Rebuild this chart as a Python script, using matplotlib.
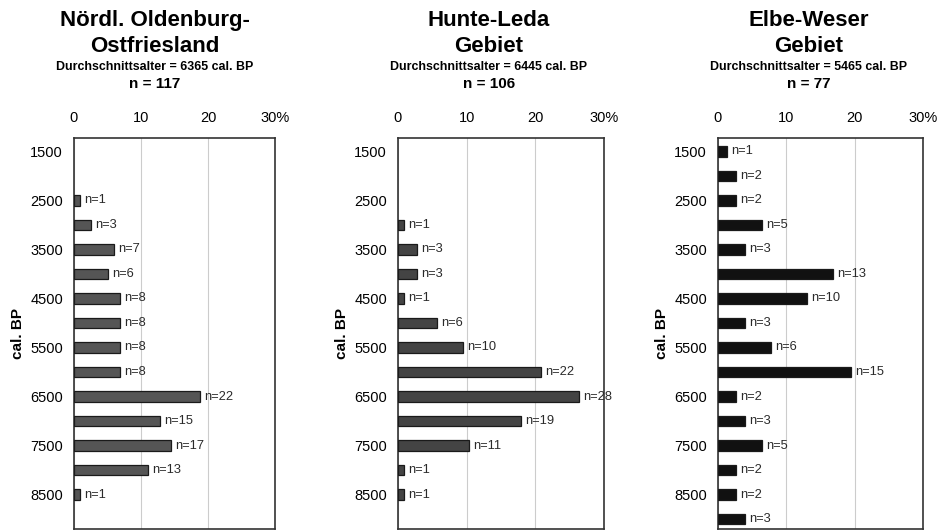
import numpy as np
import matplotlib.pyplot as plt

plt.rcParams['font.family'] = ['Liberation Sans', 'DejaVu Sans']

# Bin centres (cal. BP) and counts per region
bins_oldenburg = [2500, 3000, 3500, 4000, 4500, 5000, 5500, 6000, 6500, 7000, 7500, 8000, 8500]
n_oldenburg = [1, 3, 7, 6, 8, 8, 8, 8, 22, 15, 17, 13, 1]

bins_hunte = [3000, 3500, 4000, 4500, 5000, 5500, 6000, 6500, 7000, 7500, 8000, 8500]
n_hunte = [1, 3, 3, 1, 6, 10, 22, 28, 19, 11, 1, 1]

bins_elbe = [1500, 2000, 2500, 3000, 3500, 4000, 4500, 5000, 5500, 6000, 6500, 7000, 7500, 8000, 8500, 9000]
n_elbe = [1, 2, 2, 5, 3, 13, 10, 3, 6, 15, 2, 3, 5, 2, 2, 3]

titles = ["Nördl. Oldenburg-\nOstfriesland", "Hunte-Leda\nGebiet", "Elbe-Weser\nGebiet"]
mean_ages = [6365, 6445, 5465]
ytick_vals = [1500, 2500, 3500, 4500, 5500, 6500, 7500, 8500]
xtick_vals = [0, 10, 20, 30]
xtick_labels = ["0", "10", "20", "30%"]

panels = [
    (bins_oldenburg, n_oldenburg, "#555555"),
    (bins_hunte, n_hunte, "#444444"),
    (bins_elbe, n_elbe, "#111111"),
]
lefts = [74, 398, 718]
widths = [201, 206, 205]
title_x = [155, 489, 809]

W, H = 950, 532
fig = plt.figure(figsize=(9.5, 5.32), dpi=100)

for i, (bins, counts, color) in enumerate(panels):
    total = sum(counts)
    pct = np.array(counts) / total * 100
    ax = fig.add_axes([lefts[i] / W, 1 - 529 / H, widths[i] / W, (529 - 138) / H])
    ax.barh(bins, pct, height=215, color=color, edgecolor="#1a1a1a", linewidth=0.9, zorder=3)
    for y, p, c in zip(bins, pct, counts):
        ax.annotate(f"n={c}", (p, y), xytext=(3, 0), textcoords="offset points",
                    va="center", ha="left", fontsize=9.3, color="#2a2a2a")
    ax.set_xlim(0, 30)
    ax.set_ylim(9200, 1230)
    ax.set_xticks(xtick_vals)
    ax.set_xticklabels(xtick_labels, fontsize=10.5)
    ax.set_yticks(ytick_vals)
    ax.set_yticklabels([str(v) for v in ytick_vals], fontsize=10.5)
    ax.xaxis.tick_top()
    ax.tick_params(axis="x", length=0, pad=9)
    ax.tick_params(axis="y", length=0, pad=8)
    ax.grid(axis="x", color="#cccccc", linewidth=0.8, zorder=0)
    for s in ax.spines.values():
        s.set_color("#333333")
        s.set_linewidth(1.2)
    ax.set_ylabel("cal. BP", fontsize=11, fontweight="bold", labelpad=4)

    cx = title_x[i] / W
    fig.text(cx, 1 - 33.5 / H, titles[i], ha="center", va="center", fontsize=16,
             fontweight="bold", linespacing=1.33)
    fig.text(cx, 1 - 67.5 / H, f"Durchschnittsalter = {mean_ages[i]} cal. BP", ha="center",
             va="center", fontsize=8.9, fontweight="bold")
    fig.text(cx, 1 - 84 / H, f"n = {total}", ha="center", va="center", fontsize=11,
             fontweight="bold")

fig.savefig("out.png", dpi=100)
